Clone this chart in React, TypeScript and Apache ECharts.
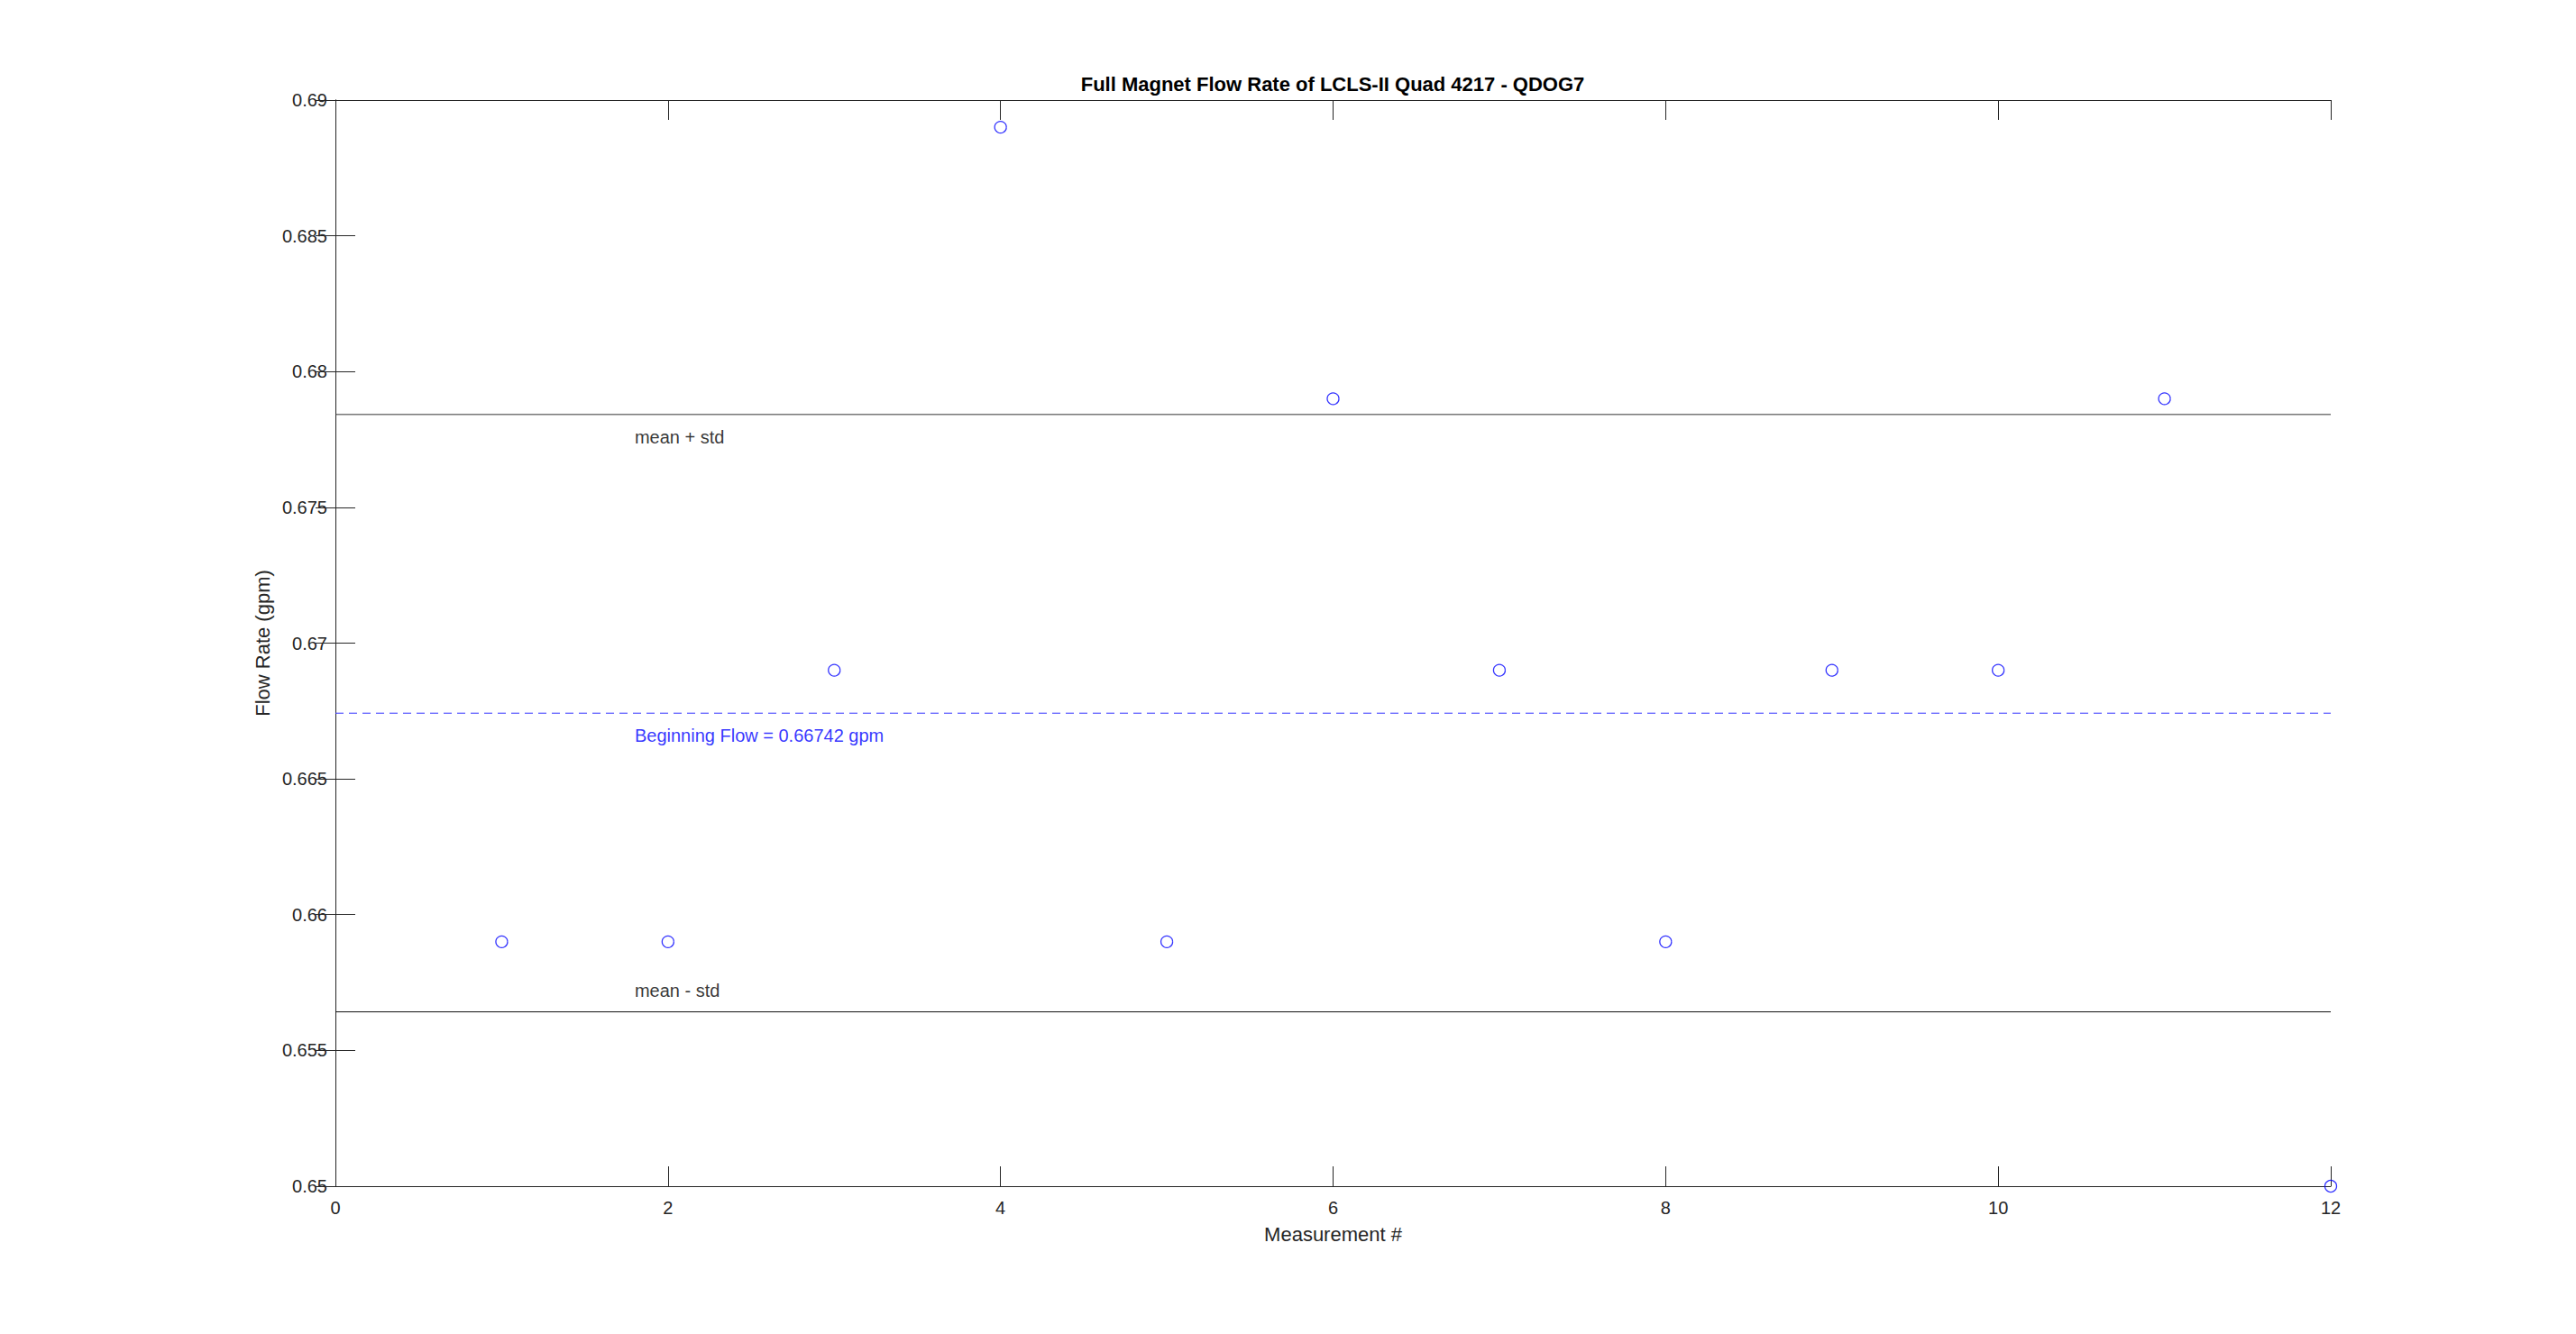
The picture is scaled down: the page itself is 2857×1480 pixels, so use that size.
import React, { useEffect, useRef } from "react";
import * as echarts from "echarts";

const measurements = [1, 2, 3, 4, 5, 6, 7, 8, 9, 10, 11, 12];
const flowRates = [0.659, 0.659, 0.669, 0.689, 0.659, 0.679, 0.669, 0.659, 0.669, 0.669, 0.679, 0.65];
const meanPlusStd = 0.67842;
const meanMinusStd = 0.65642;
const beginningFlow = 0.66742;
const lineSpanX = [0, 12];
const annotationTexts = ["mean + std", "Beginning Flow = 0.66742 gpm", "mean - std"];
const annotationX = [1.8, 1.8, 1.8];
const annotationY = [0.6776, 0.6666, 0.6572];
const annotationColors = ["#000000", "#0000ff", "#000000"];

const FONT = "'Liberation Sans', Arial, Helvetica, sans-serif";
const AX = "#262626";

export default function App() {
  const ref = useRef<HTMLDivElement>(null);
  useEffect(() => {
    if (!ref.current) return;
    const chart = echarts.init(ref.current, undefined, { renderer: "svg" });
    const tickCommon = {
      show: true,
      inside: true,
      length: 22,
      lineStyle: { color: AX, width: 1 },
    };
    const axisLineCommon = { show: true, lineStyle: { color: AX, width: 1 } };
    const fmtY = (v: number) => parseFloat(v.toFixed(3)).toString();
    const hLine = (v: number, color: string, type: any) => ({
      type: "line",
      xAxisIndex: 0,
      yAxisIndex: 0,
      symbol: "none",
      silent: true,
      clip: false,
      lineStyle: { color, width: 1, type },
      data: lineSpanX.map((x) => [x, v]),
      z: 2,
    });
    chart.setOption({
      animation: false,
      backgroundColor: "#ffffff",
      textStyle: { fontFamily: FONT },
      title: {
        text: "Full Magnet Flow Rate of LCLS-II Quad 4217 - QDOG7",
        left: 1478,
        textAlign: "center",
        top: 82,
        padding: 0,
        textStyle: { fontFamily: FONT, fontSize: 22, fontWeight: "bold", color: "#000000" },
      },
      grid: { left: 372, top: 111, width: 2213, height: 1205, containLabel: false },
      xAxis: [
        {
          type: "value",
          position: "bottom",
          min: 0,
          max: 12,
          interval: 2,
          name: "Measurement #",
          nameLocation: "middle",
          nameGap: 42,
          nameTextStyle: { fontFamily: FONT, fontSize: 22, color: AX },
          axisLine: axisLineCommon,
          axisTick: tickCommon,
          axisLabel: { fontFamily: FONT, fontSize: 20, color: AX, margin: 14 },
          splitLine: { show: false },
        },
        {
          type: "value",
          position: "top",
          min: 0,
          max: 12,
          interval: 2,
          axisLine: axisLineCommon,
          axisTick: tickCommon,
          axisLabel: { show: false },
          splitLine: { show: false },
        },
      ],
      yAxis: [
        {
          type: "value",
          position: "left",
          min: 0.65,
          max: 0.69,
          interval: 0.005,
          name: "Flow Rate (gpm)",
          nameLocation: "middle",
          nameRotate: 90,
          nameGap: 69,
          nameTextStyle: { fontFamily: FONT, fontSize: 22, color: AX },
          axisLine: axisLineCommon,
          axisTick: tickCommon,
          axisLabel: { fontFamily: FONT, fontSize: 20, color: AX, margin: 9, formatter: fmtY },
          splitLine: { show: false },
        },
        {
          type: "value",
          position: "right",
          min: 0.65,
          max: 0.69,
          interval: 0.005,
          axisLine: axisLineCommon,
          axisTick: tickCommon,
          axisLabel: { show: false },
          splitLine: { show: false },
        },
      ],
      series: [
        hLine(meanPlusStd, "#333333", "solid"),
        hLine(meanMinusStd, "#111111", "solid"),
        hLine(beginningFlow, "#3333ff", [9, 6]),
        {
          type: "scatter",
          xAxisIndex: 0,
          yAxisIndex: 0,
          clip: false,
          symbol: "circle",
          symbolSize: 13,
          itemStyle: { color: "rgba(0,0,0,0)", borderColor: "#0000ff", borderWidth: 1.3 },
          data: measurements.map((m, i) => [m, flowRates[i]]),
          z: 3,
        },
        {
          type: "scatter",
          xAxisIndex: 0,
          yAxisIndex: 0,
          symbolSize: 0,
          silent: true,
          data: annotationTexts.map((t, i) => ({
            value: [annotationX[i], annotationY[i]],
            label: {
              show: true,
              position: "right",
              distance: 0,
              formatter: t,
              fontFamily: FONT,
              fontSize: 20,
              color: annotationColors[i],
            },
          })),
        },
      ],
    });
    return () => chart.dispose();
  }, []);
  return (
    <div
      ref={ref}
      style={{ position: "fixed", left: 0, top: 0, width: 2857, height: 1480, background: "#fff" }}
    />
  );
}
